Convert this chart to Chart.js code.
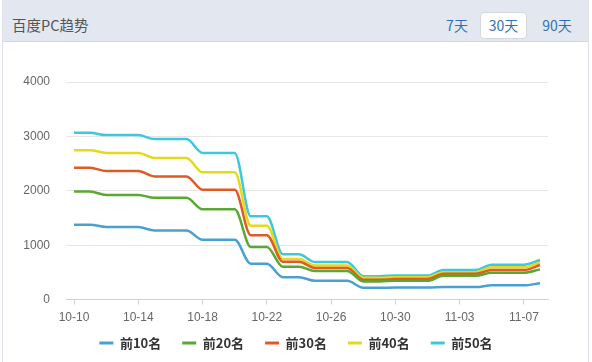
<!DOCTYPE html>
<html>
<head>
<meta charset="utf-8">
<script src="https://cdn.jsdelivr.net/npm/chart.js@4.4.0/dist/chart.umd.min.js"></script>
<style>
  body { margin: 0; width: 592px; height: 362px; overflow: hidden; background: #fff; font-family: "Noto Sans CJK SC", sans-serif; position: relative; }
  .card { position: absolute; left: 2px; top: 0; width: 585px; height: 362px; border-left: 1px solid #dfe2e8; border-right: 1px solid #dfe2e8; }
  .head { position: absolute; left: 0; top: 0; right: 0; height: 41px; background: #e3e7f0; border-bottom: 1px solid #d3d8e2; }
  .title { position: absolute; left: 9px; top: 4px; line-height: 42px; font-size: 14.5px; color: #555; }
  .btn { position: absolute; top: 13px; height: 25px; line-height: 25px; font-size: 14px; color: #2f72b3; text-align: center; }
  .btn.on { background: #fff; border: 1px solid #d3d8e2; border-radius: 4px; top: 12px; }
  #chart { position: absolute; left: 0; top: 43px; }
</style>
</head>
<body>
<div class="card">
  <div class="head">
    <span class="title">百度PC趋势</span>
    <span class="btn" style="left:440px;width:28px">7天</span>
    <span class="btn on" style="left:477px;width:45px">30天</span>
    <span class="btn" style="left:535px;width:38px">90天</span>
  </div>
</div>
<canvas id="chart" width="592" height="332"></canvas>
<script>
// 日期 10-10 .. 11-08
const days = ["10-10","10-11","10-12","10-13","10-14","10-15","10-16","10-17","10-18","10-19",
  "10-20","10-21","10-22","10-23","10-24","10-25","10-26","10-27","10-28","10-29",
  "10-30","10-31","11-01","11-02","11-03","11-04","11-05","11-06","11-07","11-08"];

const top10 = [1378,1378,1335,1335,1335,1272,1272,1272,1100,1100,1100,660,660,413,413,345,345,345,218,218,222,222,222,230,230,230,262,262,262,300];
const top20 = [1985,1985,1925,1925,1925,1870,1870,1870,1660,1660,1660,968,968,604,604,525,525,525,335,335,345,345,345,437,437,437,493,493,493,556];
const top30 = [2426,2426,2363,2363,2363,2265,2265,2265,2019,2019,2019,1185,1185,695,695,580,580,580,365,365,378,378,378,474,474,474,543,543,543,635];
const top40 = [2746,2746,2696,2696,2696,2604,2604,2604,2339,2339,2339,1357,1357,745,745,626,626,626,400,400,412,412,412,505,505,505,593,593,593,685];
const top50 = [3067,3067,3024,3024,3024,2950,2950,2950,2696,2696,2696,1530,1530,833,833,690,690,690,431,431,444,444,444,543,543,543,640,640,640,728];

const names = ["前10名","前20名","前30名","前40名","前50名"];
const colors = ["#49a0d2","#59a833","#df5b26","#e2da1a","#3ec7dd"];
const series = [top10, top20, top30, top40, top50];

const yTicks = [0, 1000, 2000, 3000, 4000];

const datasets = series.map((d, i) => ({
  label: names[i],
  data: d,
  borderColor: colors[i],
  backgroundColor: colors[i],
  borderWidth: 2.5,
  pointRadius: 0,
  fill: false,
  cubicInterpolationMode: "monotone"
}));

// 图例放到整张卡片中间，并贴近 x 轴
const legendPlace = {
  id: "legendPlace",
  afterLayout(chart) {
    const l = chart.legend;
    const h = l.height;
    l.left = 0;
    l.right = chart.width;
    l.width = chart.width;
    l.top = chart.chartArea.bottom + 16;
    l.bottom = l.top + h;
  }
};

new Chart(document.getElementById("chart"), {
  type: "line",
  data: { labels: days, datasets: datasets },
  plugins: [legendPlace],
  options: {
    responsive: false,
    animation: false,
    layout: { padding: { top: 39, right: 44, bottom: 0, left: 0 } },
    plugins: {
      tooltip: { enabled: false },
      legend: {
        position: "bottom",
        labels: {
          boxWidth: 14,
          boxHeight: 3,
          padding: 21,
          color: "#333",
          font: { family: "'Noto Sans CJK SC'", size: 13, weight: "bold" },
          generateLabels(chart) {
            const items = Chart.defaults.plugins.legend.labels.generateLabels(chart);
            items.forEach(it => { it.lineWidth = 0; it.strokeStyle = "rgba(0,0,0,0)"; });
            return items;
          }
        }
      }
    },
    scales: {
      x: {
        offset: true,
        grid: {
          drawOnChartArea: false,
          tickLength: 5,
          color: ctx => (ctx.index % 4 === 0 ? "#cdd1da" : "rgba(0,0,0,0)")
        },
        border: { color: "#cdd1da" },
        ticks: {
          autoSkip: false,
          maxRotation: 0,
          padding: 6,
          color: "#666",
          font: { family: "'Liberation Sans'", size: 12 },
          callback(v, i) { return i % 4 === 0 ? days[i] : ""; }
        }
      },
      y: {
        min: yTicks[0],
        max: yTicks[yTicks.length - 1],
        afterBuildTicks(s) { s.ticks = yTicks.map(v => ({ value: v })); },
        grid: { color: "#e6e6e6", drawTicks: false },
        border: { display: false },
        ticks: {
          padding: 16,
          color: "#666",
          font: { family: "'Liberation Sans'", size: 12 },
          callback: v => String(v)
        },
        afterFit(s) { s.width = 66; }
      }
    }
  }
});
</script>
</body>
</html>
